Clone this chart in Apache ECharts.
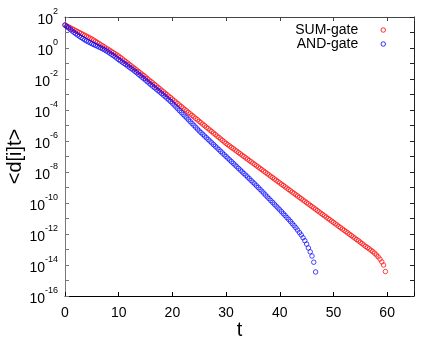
<!DOCTYPE html>
<html><head><meta charset="utf-8">
<script src="https://cdn.jsdelivr.net/npm/echarts@6/dist/echarts.min.js"></script>
<style>html,body{margin:0;padding:0;background:#fff}#c{width:436px;height:339px}</style>
</head><body><div id="c"></div>
<script>
const seriesNames = ['SUM-gate', 'AND-gate'];
const times = [
 0,0.33,0.67,1,1.33,1.67,2,2.33,2.67,3,3.33,3.67,4,4.33,4.67,
 5,5.33,5.67,6,6.33,6.67,7,7.33,7.67,8,8.33,8.67,9,9.33,9.67,
 10,10.33,10.67,11,11.33,11.67,12,12.33,12.67,13,13.33,13.67,14,14.33,14.67,
 15,15.33,15.67,16,16.33,16.67,17,17.33,17.67,18,18.33,18.67,19,19.33,19.67,
 20,20.33,20.67,21,21.33,21.67,22,22.33,22.67,23,23.33,23.67,24,24.33,24.67,
 25,25.33,25.67,26,26.33,26.67,27,27.33,27.67,28,28.33,28.67,29,29.33,29.67,
 30,30.33,30.67,31,31.33,31.67,32,32.33,32.67,33,33.33,33.67,34,34.33,34.67,
 35,35.33,35.67,36,36.33,36.67,37,37.33,37.67,38,38.33,38.67,39,39.33,39.67,
 40,40.33,40.67,41,41.33,41.67,42,42.33,42.67,43,43.33,43.67,44,44.33,44.67,
 45,45.33,45.67,46,46.33,46.67,47,47.33,47.67,48,48.33,48.67,49,49.33,49.67,
 50,50.33,50.67,51,51.33,51.67,52,52.33,52.67,53,53.33,53.67,54,54.33,54.67,
 55,55.33,55.67,56,56.33,56.67,57,57.33,57.67,58,58.33,58.67,59,59.33,59.67
];
// log10 of <d[i]t>
const sumGateExp = [
 1.48,1.42,1.36,1.30,1.24,1.18,1.12,1.06,1.00,0.94,0.88,0.82,0.76,0.70,0.64,
 0.58,0.51,0.43,0.36,0.29,0.21,0.14,0.07,-0.01,-0.08,-0.15,-0.23,-0.30,-0.37,-0.45,
 -0.52,-0.61,-0.70,-0.79,-0.88,-0.97,-1.06,-1.15,-1.24,-1.33,-1.42,-1.51,-1.60,-1.69,-1.78,
 -1.87,-1.97,-2.06,-2.16,-2.25,-2.35,-2.44,-2.54,-2.63,-2.73,-2.82,-2.92,-3.01,-3.11,-3.20,
 -3.30,-3.40,-3.49,-3.59,-3.68,-3.78,-3.87,-3.97,-4.06,-4.16,-4.25,-4.35,-4.44,-4.54,-4.63,
 -4.73,-4.82,-4.92,-5.01,-5.11,-5.20,-5.30,-5.39,-5.49,-5.58,-5.68,-5.77,-5.87,-5.96,-6.06,
 -6.15,-6.24,-6.32,-6.41,-6.49,-6.58,-6.66,-6.75,-6.83,-6.92,-7.00,-7.09,-7.17,-7.26,-7.34,
 -7.43,-7.51,-7.60,-7.68,-7.77,-7.85,-7.94,-8.02,-8.11,-8.19,-8.28,-8.36,-8.45,-8.53,-8.62,
 -8.70,-8.79,-8.87,-8.96,-9.04,-9.13,-9.21,-9.30,-9.38,-9.47,-9.55,-9.64,-9.72,-9.81,-9.89,
 -9.98,-10.06,-10.15,-10.23,-10.32,-10.40,-10.49,-10.57,-10.66,-10.74,-10.83,-10.91,-11.00,-11.08,-11.17,
 -11.25,-11.34,-11.42,-11.51,-11.59,-11.68,-11.76,-11.85,-11.93,-12.02,-12.10,-12.19,-12.27,-12.36,-12.44,
 -12.53,-12.62,-12.71,-12.80,-12.88,-12.96,-13.05,-13.14,-13.24,-13.35,-13.47,-13.62,-13.80,-14.00,-14.42
];
const andGateExp = [
 1.48,1.38,1.29,1.19,1.10,1.01,0.92,0.84,0.76,0.68,0.61,0.53,0.46,0.40,0.34,
 0.28,0.23,0.17,0.12,0.06,0.01,-0.05,-0.11,-0.18,-0.25,-0.33,-0.41,-0.49,-0.57,-0.66,
 -0.75,-0.83,-0.91,-0.99,-1.07,-1.16,-1.24,-1.33,-1.41,-1.50,-1.59,-1.69,-1.78,-1.88,-1.97,
 -2.07,-2.17,-2.27,-2.37,-2.46,-2.56,-2.65,-2.75,-2.84,-2.94,-3.04,-3.14,-3.24,-3.35,-3.45,
 -3.56,-3.68,-3.80,-3.92,-4.04,-4.16,-4.28,-4.40,-4.51,-4.63,-4.75,-4.87,-4.99,-5.11,-5.23,
 -5.35,-5.46,-5.57,-5.68,-5.79,-5.90,-6.01,-6.12,-6.23,-6.34,-6.45,-6.56,-6.67,-6.78,-6.89,
 -7.00,-7.11,-7.22,-7.33,-7.44,-7.55,-7.66,-7.77,-7.88,-7.99,-8.10,-8.21,-8.32,-8.43,-8.55,
 -8.66,-8.77,-8.89,-9.00,-9.12,-9.24,-9.36,-9.48,-9.60,-9.72,-9.84,-9.96,-10.08,-10.20,-10.32,
 -10.44,-10.56,-10.69,-10.81,-10.94,-11.06,-11.19,-11.33,-11.46,-11.60,-11.75,-11.91,-12.06,-12.24,-12.43,
 -12.65,-12.90,-13.15,-13.42,-13.82,-14.45
];
const xTickLabels = [0,10,20,30,40,50,60];
const yTickExponents = [2,0,-2,-4,-6,-8,-10,-12,-14,-16];

const FONT = '"Liberation Sans", Arial, sans-serif';
const chart = echarts.init(document.getElementById('c'), null, {renderer:'canvas'});

function pairs(vals){ return vals.map((v,i)=>[times[i], v]); }

const xCommon = {type:'value', min:0, max:65, interval:10, splitLine:{show:false}};
const yCommon = {type:'value', min:-16, max:2, interval:2, splitLine:{show:false}};

chart.setOption({
  animation:false,
  backgroundColor:'#fff',
  grid:{left:65, right:22, top:17, bottom:43, containLabel:false, outerBoundsMode:'none'},
  legend:{
    orient:'vertical', right:45, top:18, align:'right',
    itemWidth:40, itemHeight:4.5, itemGap:0,
    itemStyle:{borderWidth:1},
    textStyle:{fontFamily:FONT, fontSize:14, color:'#000', lineHeight:14},
    data:seriesNames
  },
  xAxis:[
    Object.assign({}, xCommon, {
      position:'bottom',
      name:'t', nameLocation:'middle', nameGap:24, nameMoveOverlap:false,
      nameTextStyle:{fontFamily:FONT, fontSize:20, color:'#000', verticalAlign:'top'},
      axisLine:{show:true, onZero:false, lineStyle:{color:'#000', width:1}},
      axisTick:{show:true, inside:true, length:4, lineStyle:{color:'#000'}},
      axisLabel:{fontFamily:FONT, fontSize:14, color:'#000', margin:10,
        formatter:v=>xTickLabels.indexOf(v)>=0 ? String(v) : ''}
    }),
    Object.assign({}, xCommon, {
      position:'top',
      axisLine:{show:true, onZero:false, lineStyle:{color:'#444', width:1}},
      axisTick:{show:true, inside:true, length:4, lineStyle:{color:'#444'}},
      axisLabel:{show:false}
    })
  ],
  yAxis:[
    Object.assign({}, yCommon, {
      position:'left',
      name:'<d[i]t>', nameLocation:'middle', nameGap:40, nameRotate:90, nameMoveOverlap:false,
      nameTextStyle:{fontFamily:FONT, fontSize:20, color:'#000'},
      axisLine:{show:true, onZero:false, lineStyle:{color:'#777', width:1}},
      axisTick:{show:true, inside:true, length:4, lineStyle:{color:'#777'}},
      minorTick:{show:true, splitNumber:2, length:4, lineStyle:{color:'#777'}},
      axisLabel:{margin:7,
        formatter:v=>yTickExponents.indexOf(v)>=0 ? '{b|10}{s|'+v+'}' : '',
        rich:{
          b:{fontFamily:FONT, fontSize:14, color:'#000', verticalAlign:'bottom', lineHeight:20},
          s:{fontFamily:FONT, fontSize:9, color:'#000', verticalAlign:'top', lineHeight:20}
        }}
    }),
    Object.assign({}, yCommon, {
      position:'right',
      axisLine:{show:true, onZero:false, lineStyle:{color:'#222', width:1}},
      axisTick:{show:true, inside:true, length:4, lineStyle:{color:'#222'}},
      minorTick:{show:true, splitNumber:2, length:4, lineStyle:{color:'#222'}},
      axisLabel:{show:false}
    })
  ],
  series:[
    {name:seriesNames[0], type:'scatter', xAxisIndex:0, yAxisIndex:0,
     symbol:'circle', symbolSize:4.5,
     itemStyle:{color:'rgba(255,255,255,0)', borderColor:'#ff0000', borderWidth:0.9},
     data:pairs(sumGateExp)},
    {name:seriesNames[1], type:'scatter', xAxisIndex:0, yAxisIndex:0,
     symbol:'circle', symbolSize:4.5,
     itemStyle:{color:'rgba(255,255,255,0)', borderColor:'#0000ff', borderWidth:0.9},
     data:pairs(andGateExp)}
  ]
});
</script></body></html>
